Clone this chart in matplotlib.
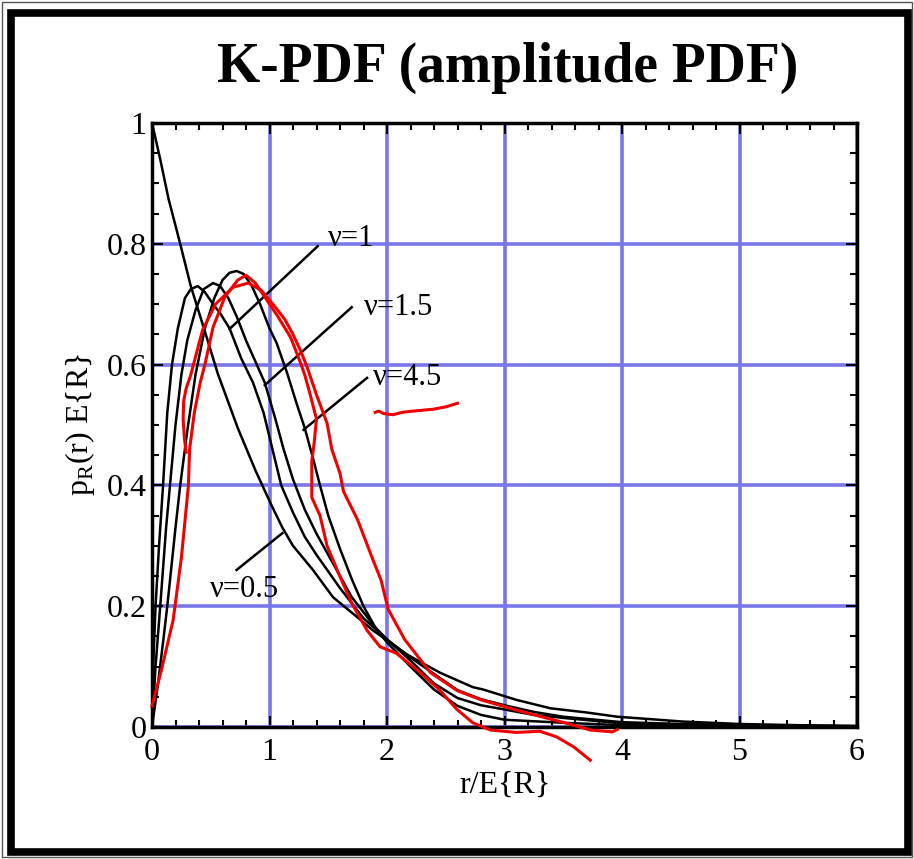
import matplotlib
matplotlib.use("Agg")
import matplotlib.pyplot as plt
from matplotlib.patches import Rectangle
from matplotlib.ticker import MultipleLocator

# black curves (r/E{R}, p_R(r) E{R})
nu05_x = [0, 0.07, 0.14, 0.24, 0.33, 0.45, 0.56, 0.73, 0.88, 1.01, 1.11, 1.2, 1.37, 1.54, 1.74,
          1.88, 2.17, 2.45, 2.73, 2.82, 3.1, 3.39, 3.7, 3.96, 4.52, 5.0, 5.5, 6.0]
nu05_y = [1.0, 0.94, 0.875, 0.80, 0.73, 0.655, 0.585, 0.495, 0.425, 0.37, 0.33, 0.30, 0.26, 0.215, 0.183,
          0.16, 0.12, 0.09, 0.066, 0.062, 0.045, 0.031, 0.024, 0.017, 0.009, 0.005, 0.003, 0.002]

nu1_x = [0, 0.01, 0.03, 0.06, 0.094, 0.13, 0.17, 0.22, 0.28, 0.33, 0.39, 0.45, 0.52, 0.58, 0.66,
         0.76, 0.86, 0.95, 1.05, 1.1, 1.2, 1.3, 1.4, 1.6, 1.8, 2.0, 2.2, 2.4, 2.6, 2.8, 3.0,
         3.25, 3.5, 4.0, 4.5, 5.0, 6.0]
nu1_y = [0, 0.1, 0.2, 0.3, 0.40, 0.52, 0.6, 0.66, 0.71, 0.725, 0.73, 0.72, 0.70, 0.685, 0.66,
         0.61, 0.57, 0.52, 0.44, 0.40, 0.355, 0.315, 0.285, 0.23, 0.18, 0.145, 0.115, 0.088, 0.061, 0.046, 0.036,
         0.025, 0.017, 0.008, 0.005, 0.003, 0.001]

nu15_x = [0, 0.03, 0.07, 0.12, 0.153, 0.2, 0.25, 0.3, 0.37, 0.44, 0.52, 0.58, 0.65, 0.72, 0.8,
          0.88, 0.96, 1.05, 1.12, 1.2, 1.3, 1.4, 1.5, 1.6, 1.7, 1.8, 1.9, 2.0, 2.2, 2.4, 2.6,
          2.8, 3.0, 3.25, 3.5, 4.0, 4.5, 5.0, 6.0]
nu15_y = [0, 0.1, 0.2, 0.33, 0.40, 0.5, 0.583, 0.64, 0.69, 0.725, 0.735, 0.73, 0.71, 0.68, 0.64,
          0.605, 0.57, 0.51, 0.46, 0.41, 0.36, 0.32, 0.285, 0.25, 0.215, 0.19, 0.165, 0.145, 0.11, 0.072, 0.048,
          0.036, 0.029, 0.02, 0.015, 0.006, 0.004, 0.002, 0.001]

nu45_x = [0, 0.05, 0.1, 0.13, 0.2, 0.24, 0.3, 0.37, 0.45, 0.53, 0.6, 0.66, 0.72, 0.78, 0.85,
          0.92, 1.0, 1.06, 1.15, 1.23, 1.3, 1.37, 1.43, 1.5, 1.6, 1.7, 1.8, 1.9, 2.0, 2.2,
          2.4, 2.6, 2.8, 3.0, 3.5, 4.0, 4.5, 5.0, 6.0]
nu45_y = [0, 0.07, 0.15, 0.2, 0.33, 0.40, 0.49, 0.583, 0.66, 0.71, 0.74, 0.752, 0.755, 0.75, 0.73,
          0.70, 0.66, 0.636, 0.586, 0.536, 0.495, 0.445, 0.40, 0.35, 0.295, 0.245, 0.2, 0.165, 0.14, 0.1,
          0.062, 0.035, 0.02, 0.012, 0.007, 0.003, 0.002, 0.001, 0.0]

# red hand-drawn curves
red1_x = [0, 0.08, 0.18, 0.25, 0.29, 0.31, 0.32, 0.36, 0.41, 0.45, 0.52, 0.62, 0.73, 0.80, 0.88,
          0.96, 1.07, 1.18, 1.26, 1.30, 1.34, 1.40, 1.38, 1.36, 1.36, 1.43, 1.49, 1.6, 1.70, 1.83,
          1.94, 2.08, 2.26, 2.45, 2.59, 2.73, 2.88, 3.1, 3.30, 3.44, 3.59, 3.73]
red1_y = [0.035, 0.094, 0.177, 0.28, 0.36, 0.40, 0.46, 0.52, 0.57, 0.60, 0.662, 0.712, 0.74, 0.748, 0.735,
          0.712, 0.68, 0.645, 0.605, 0.583, 0.555, 0.51, 0.47, 0.44, 0.38, 0.35, 0.30, 0.249, 0.205, 0.16,
          0.133, 0.122, 0.094, 0.061, 0.03, 0.007, -0.005, -0.009, -0.007, -0.016, -0.033, -0.055]

red2_x = [0.29, 0.275, 0.265, 0.27, 0.29, 0.33, 0.43, 0.54, 0.69, 0.82, 0.93, 1.05, 1.13, 1.2, 1.26, 1.32,
          1.40, 1.49, 1.53, 1.6, 1.63, 1.75, 1.88, 1.95, 2.01, 2.15, 2.37, 2.6, 2.8, 3.1, 3.53,
          3.73, 3.92, 3.96]
red2_y = [0.455, 0.48, 0.51, 0.54, 0.56, 0.583, 0.657, 0.70, 0.728, 0.735, 0.723, 0.695, 0.675, 0.65, 0.625, 0.596,
          0.55, 0.503, 0.46, 0.42, 0.39, 0.343, 0.277, 0.243, 0.195, 0.145, 0.09, 0.06, 0.045, 0.028, 0.006,
          -0.005, -0.008, -0.004]

squiggle_x = [1.90, 1.93, 1.97, 2.05, 2.13, 2.22, 2.39, 2.50, 2.60]
squiggle_y = [0.521, 0.523, 0.519, 0.517, 0.521, 0.523, 0.526, 0.53, 0.536]

# labels: text, text position, pointer start, pointer end
labels = ["ν=1", "ν=1.5", "ν=4.5", "ν=0.5"]
label_pos = [(1.50, 0.809), (1.80, 0.694), (1.88, 0.578), (0.49, 0.228)]
pointer_from = [(1.41, 0.796), (1.70, 0.695), (1.83, 0.578), (0.72, 0.26)]
pointer_to = [(0.66, 0.659), (0.96, 0.566), (1.29, 0.492), (1.11, 0.321)]

serif = "Liberation Serif"
plt.rcParams["font.family"] = [serif, "DejaVu Serif"]
plt.rcParams["mathtext.fontset"] = "custom"
plt.rcParams["mathtext.rm"] = serif

W, H = 914, 859
fig = plt.figure(figsize=(W / 100, H / 100), dpi=100)
ax = fig.add_axes([152 / W, 1 - 727 / H, 705 / W, 604 / H])

# figure frame
fig.patches.append(Rectangle((2 / W, 1 - 857 / H), 910 / W, 855 / H, transform=fig.transFigure,
                             fill=False, lw=1.0, ec="#555555"))
fig.patches.append(Rectangle((11 / W, 1 - 852 / H), 897 / W, 839 / H, transform=fig.transFigure,
                             fill=False, lw=5.5, ec="black"))

for xs, ys in [(nu05_x, nu05_y), (nu1_x, nu1_y), (nu15_x, nu15_y), (nu45_x, nu45_y)]:
    ax.plot(xs, ys, color="black", lw=1.8, zorder=3)

for xs, ys in [(red1_x, red1_y), (red2_x, red2_y), (squiggle_x, squiggle_y)]:
    ax.plot(xs, ys, color="#f00000", lw=2.2, zorder=4, clip_on=False)

for txt, pos, p0, p1 in zip(labels, label_pos, pointer_from, pointer_to):
    ax.plot([p0[0], p1[0]], [p0[1], p1[1]], color="black", lw=1.8, zorder=3)
    ax.text(pos[0], pos[1], txt, fontsize=22, ha="left", va="center", zorder=5)

ax.set_xlim(0, 6)
ax.set_ylim(0, 1)
ax.set_xticks([0, 1, 2, 3, 4, 5, 6])
ax.set_yticks([0, 0.2, 0.4, 0.6, 0.8, 1])
ax.set_yticklabels(["0", "0.2", "0.4", "0.6", "0.8", "1"])
ax.xaxis.set_minor_locator(MultipleLocator(0.2))
ax.yaxis.set_minor_locator(MultipleLocator(0.05))
ax.tick_params(which="both", direction="in", top=True, right=True, width=1.5, labelsize=23)
ax.tick_params(which="major", length=8)
ax.tick_params(which="minor", length=5)
ax.tick_params(axis="x", pad=8)
ax.tick_params(axis="y", pad=4)

ax.set_axisbelow(True)
ax.grid(which="major", color="#7878ea", lw=2.6)
for sp in ax.spines.values():
    sp.set_linewidth(2.5)

ax.set_xlabel("r/E{R}", fontsize=23)
ax.xaxis.set_label_coords(0.5, -0.072)
ax.set_ylabel(r"p$_\mathregular{R}$(r) E{R}", fontsize=23)
ax.yaxis.set_label_coords(-0.078, 0.5)

fig.text(508 / W, 1 - 68 / H, "K-PDF (amplitude PDF)", fontsize=40, fontweight="bold",
         ha="center", va="center")

fig.savefig("out.png", dpi=100)
